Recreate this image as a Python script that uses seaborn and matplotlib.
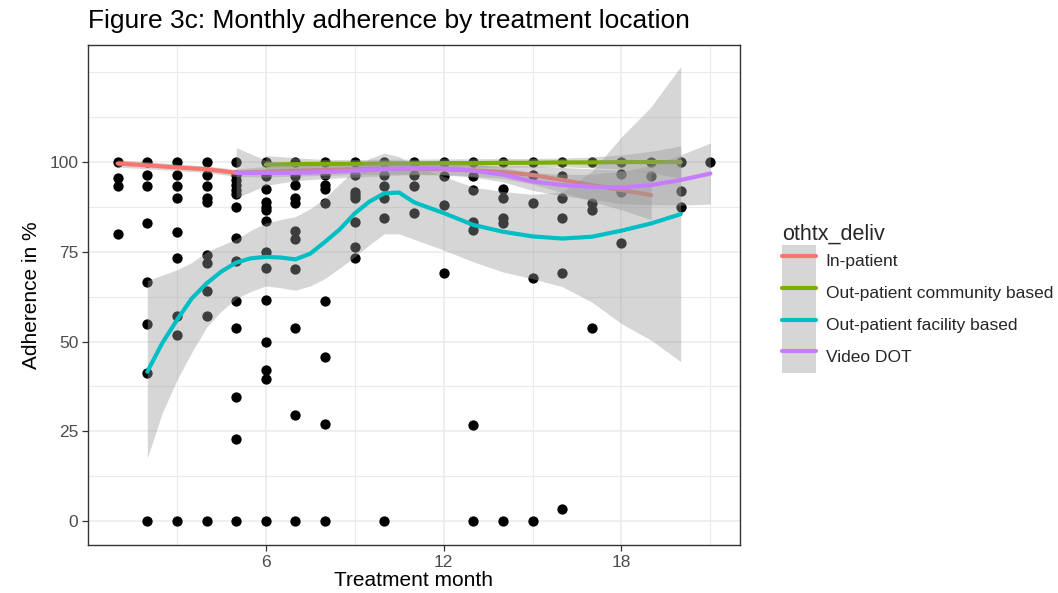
import matplotlib
matplotlib.use("Agg")
import matplotlib.pyplot as plt
from matplotlib.lines import Line2D
from matplotlib.patches import Rectangle
import seaborn as sns
import pandas as pd

# ---------------- data ----------------
point_month = (
    [1] * 4 + [2] * 8 + [3] * 9 + [4] * 10 + [5] * 14 + [6] * 14 + [7] * 11 +
    [8] * 9 + [9] * 8 + [10] * 6 + [11] * 4 + [12] * 4 + [13] * 7 + [14] * 6 +
    [15] * 5 + [16] * 6 + [17] * 4 + [18] * 4 + [19] * 2 + [20] * 3 + [21] * 1
)
point_adherence = [
    100, 95.5, 93.3, 80,
    100, 96.4, 93.3, 83, 66.5, 55, 41.3, 0,
    100, 96.4, 93.3, 90, 80.6, 73.2, 57.2, 51.8, 0,
    100, 96.4, 93.3, 90, 89, 74, 72, 64, 57.2, 0,
    100, 96.4, 95, 93.7, 92.3, 91, 87.4, 78.9, 72.5, 61.3, 53.7, 34.5, 23, 0,
    100, 96, 92.4, 89, 87.5, 86.6, 83.6, 75, 70.6, 61.7, 49.8, 42, 39.7, 0,
    100, 96, 93.6, 90, 88.5, 80.8, 78.5, 70.2, 53.7, 29.5, 0,
    100, 96.4, 93.6, 92.4, 88.7, 61.3, 45.6, 27, 0,
    100, 96.4, 91.7, 90.8, 89.9, 83.4, 76.4, 73.2,
    100, 96.4, 93.3, 89.9, 84.3, 0,
    100, 96.4, 93.3, 85.7,
    100, 96, 88, 69,
    100, 96, 92.2, 83.4, 81.1, 26.7, 0,
    100, 92.4, 89.9, 84.3, 83.1, 0,
    100, 96.4, 88.7, 67.6, 0,
    100, 96, 90, 84.3, 69, 3.3,
    100, 88.5, 86.6, 53.7,
    100, 96.7, 91.7, 77.5,
    100, 96,
    100, 92, 87.4,
    100,
]

groups = ["In-patient", "Out-patient community based",
          "Out-patient facility based", "Video DOT"]
group_colors = ["#F8766D", "#7CAE00", "#00BFC4", "#C77CFF"]

# In-patient smooth
inp_month = [1, 2, 3, 4, 5, 6, 7, 8, 9, 10, 11, 12, 13, 14, 15, 16, 17, 18, 19]
inp_fit = [99.6, 99.1, 98.5, 98.0, 97.0, 97.3, 97.6, 97.8, 98.0, 98.1, 98.1,
           98.0, 97.7, 97.2, 96.4, 95.0, 93.6, 92.2, 90.8]
inp_lo = [98.6, 98.1, 97.6, 97.1, 96.0, 95.8, 96.1, 96.3, 96.5, 96.6, 96.6,
          96.5, 96.1, 95.4, 93.9, 91.5, 89.1, 86.7, 84.0]
inp_hi = [100.6, 100.1, 99.4, 98.9, 98.0, 98.8, 99.1, 99.3, 99.5, 99.6, 99.6,
          99.5, 99.3, 99.0, 98.9, 98.5, 98.1, 97.7, 97.6]

# Out-patient community based smooth
com_month = [6, 7, 8, 9, 10, 11, 12, 13, 14, 15, 16, 17, 18, 19, 20]
com_fit = [99.3, 99.4, 99.5, 99.5, 99.6, 99.6, 99.7, 99.7, 99.8, 99.8, 99.9,
           99.9, 100.0, 100.0, 100.0]
com_lo = [96.8, 97.6, 98.3, 98.3, 98.4, 98.4, 98.5, 98.5, 98.6, 98.6, 98.7,
          98.4, 98.0, 97.0, 95.5]
com_hi = [101.8, 101.2, 100.7, 100.7, 100.8, 100.8, 100.9, 100.9, 101.0, 101.0,
          101.1, 101.4, 102.0, 103.0, 104.5]

# Out-patient facility based smooth
fac_month = [2, 2.5, 3, 3.5, 4, 4.5, 5, 5.5, 6, 6.5, 7, 7.5, 8, 8.5, 9, 9.5,
             10, 10.5, 11, 12, 13, 14, 15, 16, 17, 18, 19, 20]
fac_fit = [41.6, 49.5, 56.0, 62.0, 66.2, 69.5, 72.0, 73.2, 73.6, 73.4, 72.9,
           74.5, 77.8, 81.3, 85.7, 89.0, 91.3, 91.5, 88.8, 85.8, 82.5, 80.6,
           79.3, 78.7, 79.2, 80.9, 82.9, 85.5]
fac_lo = [17.5, 30.0, 39.3, 47.0, 54.0, 58.5, 62.0, 64.0, 65.5, 65.0, 64.3,
          65.5, 67.6, 70.5, 73.6, 77.0, 80.0, 80.0, 78.5, 75.5, 72.2, 69.4,
          67.5, 65.3, 61.0, 55.0, 50.4, 44.4]
fac_hi = [67.0, 68.5, 70.0, 72.0, 75.0, 76.8, 78.5, 81.0, 83.0, 84.0, 84.8,
          87.0, 90.0, 94.0, 97.8, 101.0, 102.5, 101.5, 99.0, 96.0, 93.0, 91.8,
          91.0, 91.7, 97.4, 107.0, 115.4, 126.6]

# Video DOT smooth
vid_month = [5, 6, 7, 8, 9, 10, 11, 12, 13, 14, 15, 16, 17, 18, 19, 20, 21]
vid_fit = [97.0, 97.0, 97.0, 97.2, 97.6, 98.0, 98.3, 98.2, 97.6, 96.5, 94.6,
           93.6, 93.1, 92.9, 93.6, 95.0, 96.8]
vid_lo = [90.0, 93.5, 94.8, 95.4, 95.8, 96.2, 96.5, 96.4, 95.8, 94.5, 92.1,
          90.6, 89.6, 88.4, 88.1, 88.0, 88.3]
vid_hi = [104.0, 100.5, 99.2, 99.0, 99.4, 99.8, 100.1, 100.0, 99.4, 98.5,
          97.1, 96.6, 96.6, 97.4, 99.1, 102.0, 105.3]

x_major = [6, 12, 18]
x_minor = [3, 9, 15, 21]
y_major = [0, 25, 50, 75, 100]
y_minor = [12.5, 37.5, 62.5, 87.5, 112.5, 125]

title_text = "Figure 3c: Monthly adherence by treatment location"
x_label = "Treatment month"
y_label = "Adherence in %"
legend_title = "othtx_deliv"

# ---------------- drawing ----------------
sns.set_theme(style="white")
plt.rcParams["font.family"] = ["Liberation Sans", "DejaVu Sans"]

fig = plt.figure(figsize=(10.58, 5.93), dpi=100)
ax = fig.add_axes([88 / 1058, 1 - 545 / 593, (740 - 88) / 1058, (545 - 45) / 593])

points = pd.DataFrame({"month": point_month, "adherence": point_adherence})
sns.scatterplot(data=points, x="month", y="adherence", color="black", s=55,
                linewidth=0, ax=ax, zorder=2.5, legend=False)

smooths = [
    (inp_month, inp_fit, inp_lo, inp_hi),
    (com_month, com_fit, com_lo, com_hi),
    (fac_month, fac_fit, fac_lo, fac_hi),
    (vid_month, vid_fit, vid_lo, vid_hi),
]
for i, (name, col, (m, f, lo, hi)) in enumerate(zip(groups, group_colors, smooths)):
    ax.fill_between(m, lo, hi, color="#999999", alpha=0.4, linewidth=0,
                    zorder=3 + 2 * i)
    df = pd.DataFrame({"month": m, "fit": f})
    sns.lineplot(data=df, x="month", y="fit", color=col, linewidth=3,
                 ax=ax, zorder=4 + 2 * i, errorbar=None)

ax.set_xlim(0, 22)
ax.set_ylim(-6.65, 132.6)
ax.set_xticks(x_major)
ax.set_xticks(x_minor, minor=True)
ax.set_yticks(y_major)
ax.set_yticks(y_minor, minor=True)
ax.set_xticklabels([str(v) for v in x_major])
ax.set_yticklabels([str(v) for v in y_major])
ax.grid(True, which="major", color="#EBEBEB", linewidth=1.1, zorder=0)
ax.grid(True, which="minor", color="#EBEBEB", linewidth=0.8, zorder=0)
ax.set_axisbelow(True)
ax.tick_params(which="major", length=4, width=0.9, color="#333333",
               labelsize=12.5, labelcolor="#4D4D4D", pad=3, direction="out",
               bottom=True, left=True)
ax.tick_params(which="minor", length=0)
for s in ax.spines.values():
    s.set_color("#333333")
    s.set_linewidth(1.0)
ax.set_xlabel(x_label, fontsize=15, color="black", labelpad=1)
ax.set_ylabel(y_label, fontsize=15, color="black", labelpad=6)
ax.set_title(title_text, fontsize=19, loc="left", pad=12, color="black")

handles = []
for col in group_colors:
    handles.append((Rectangle((0, 0), 1, 1, facecolor="#D6D6D6", edgecolor="none"),
                    Line2D([0], [0], color=col, linewidth=3)))
leg = fig.legend(handles, groups, title=legend_title, loc="upper left",
                 bbox_to_anchor=(770 / 1058, 1 - 212 / 593), frameon=False,
                 fontsize=12.5, title_fontsize=15.5, handlelength=1.95,
                 handleheight=2.45, labelspacing=0, handletextpad=0.55,
                 borderpad=0.2, alignment="left")

fig.savefig("out.png", dpi=100)
